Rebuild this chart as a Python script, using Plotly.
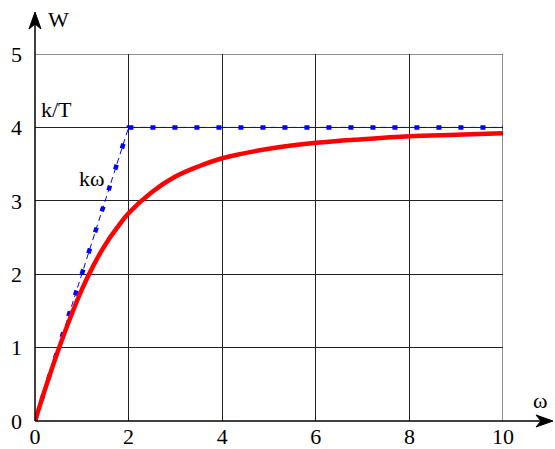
import plotly.graph_objects as go

# data
w_red = [0, 0.25, 0.5, 0.75, 1.0, 1.25, 1.5, 1.75, 2.0, 2.5, 3.0, 3.5, 4.0, 5.0, 6.0, 7.0, 8.0, 9.0, 10.0]
W_red = [0, 0.50, 0.97, 1.40, 1.79, 2.12, 2.40, 2.63, 2.83, 3.12, 3.33, 3.47, 3.58, 3.71, 3.79, 3.84, 3.88, 3.90, 3.92]

w_blue = [0, 2, 10]
W_blue = [0, 4, 4]

x_ticks = [0, 2, 4, 6, 8, 10]
y_ticks = [0, 1, 2, 3, 4, 5]

font = "Liberation Serif"

fig = go.Figure()
fig.add_trace(go.Scatter(x=w_blue, y=W_blue, mode="lines",
                         line=dict(color="blue", width=1, dash="6px,4px"),
                         hoverinfo="skip"))
fig.add_trace(go.Scatter(x=w_blue, y=W_blue, mode="lines",
                         line=dict(color="blue", width=4.5, dash="5px,17px"),
                         hoverinfo="skip"))
fig.add_trace(go.Scatter(x=w_red, y=W_red, mode="lines",
                         line=dict(color="red", width=4.5, shape="spline"),
                         hoverinfo="skip"))

fig.update_layout(
    width=555, height=449,
    margin=dict(l=35, r=52, t=54, b=28, autoexpand=False),
    paper_bgcolor="white", plot_bgcolor="white",
    showlegend=False,
    font=dict(family=font, size=22, color="black"),
    xaxis=dict(range=[0, 10], tickvals=x_ticks, showgrid=True, gridcolor="#222",
               gridwidth=1, zeroline=False, showline=False, ticks="",
               automargin=False, fixedrange=True, ticklabelstandoff=0,
               tickfont=dict(family=font, size=22)),
    yaxis=dict(range=[0, 5], tickvals=y_ticks, showgrid=True, gridcolor="#222",
               gridwidth=1, zeroline=False, showline=False, ticks="",
               automargin=False, fixedrange=True, ticklabelstandoff=12,
               tickfont=dict(family=font, size=22)),
)

# extra grid edges at x=10 and y=5
fig.add_shape(type="line", xref="x", yref="y", x0=10, x1=10, y0=0, y1=5,
              line=dict(color="#222", width=1))
fig.add_shape(type="line", xref="x", yref="y", x0=0, x1=10, y0=5, y1=5,
              line=dict(color="#222", width=1))

# axis lines with arrowheads
xr = (553 - 35) / 468
yt = (421 - 12) / 367
fig.add_shape(type="line", xref="paper", yref="paper", x0=0, x1=xr - 0.01, y0=0, y1=0,
              line=dict(color="black", width=1.5))
fig.add_shape(type="line", xref="paper", yref="paper", x0=0, x1=0, y0=0, y1=yt - 0.02,
              line=dict(color="black", width=1.5))
fig.add_shape(type="path", xref="paper", yref="paper", xsizemode="pixel", ysizemode="pixel",
              xanchor=xr, yanchor=0, path="M 0 0 L -17 6 L -12 0 L -17 -6 Z",
              fillcolor="black", line=dict(color="black", width=1))
fig.add_shape(type="path", xref="paper", yref="paper", xsizemode="pixel", ysizemode="pixel",
              xanchor=0, yanchor=yt, path="M 0 0 L -6 -17 L 0 -12 L 6 -17 Z",
              fillcolor="black", line=dict(color="black", width=1))

fig.add_annotation(xref="paper", yref="paper", x=(540 - 35) / 468, y=(421 - 400) / 367,
                   xanchor="center", yanchor="middle",
                   text="ω", showarrow=False, font=dict(size=22, family=font))
fig.add_annotation(xref="paper", yref="paper", x=(58 - 35) / 468, y=(421 - 19) / 367,
                   xanchor="center", yanchor="middle",
                   text="W", showarrow=False, font=dict(size=22, family=font))
fig.add_annotation(xref="x", yref="y", x=0.45, y=4.24, text="k/T",
                   xanchor="center", yanchor="middle",
                   showarrow=False, font=dict(size=22, family=font))
fig.add_annotation(xref="x", yref="y", x=1.2, y=3.3, text="kω",
                   xanchor="center", yanchor="middle",
                   showarrow=False, font=dict(size=22, family=font))

fig.write_html("out.html", config={"displayModeBar": False},
               post_script="document.body.style.margin='0';document.body.style.padding='0';")
